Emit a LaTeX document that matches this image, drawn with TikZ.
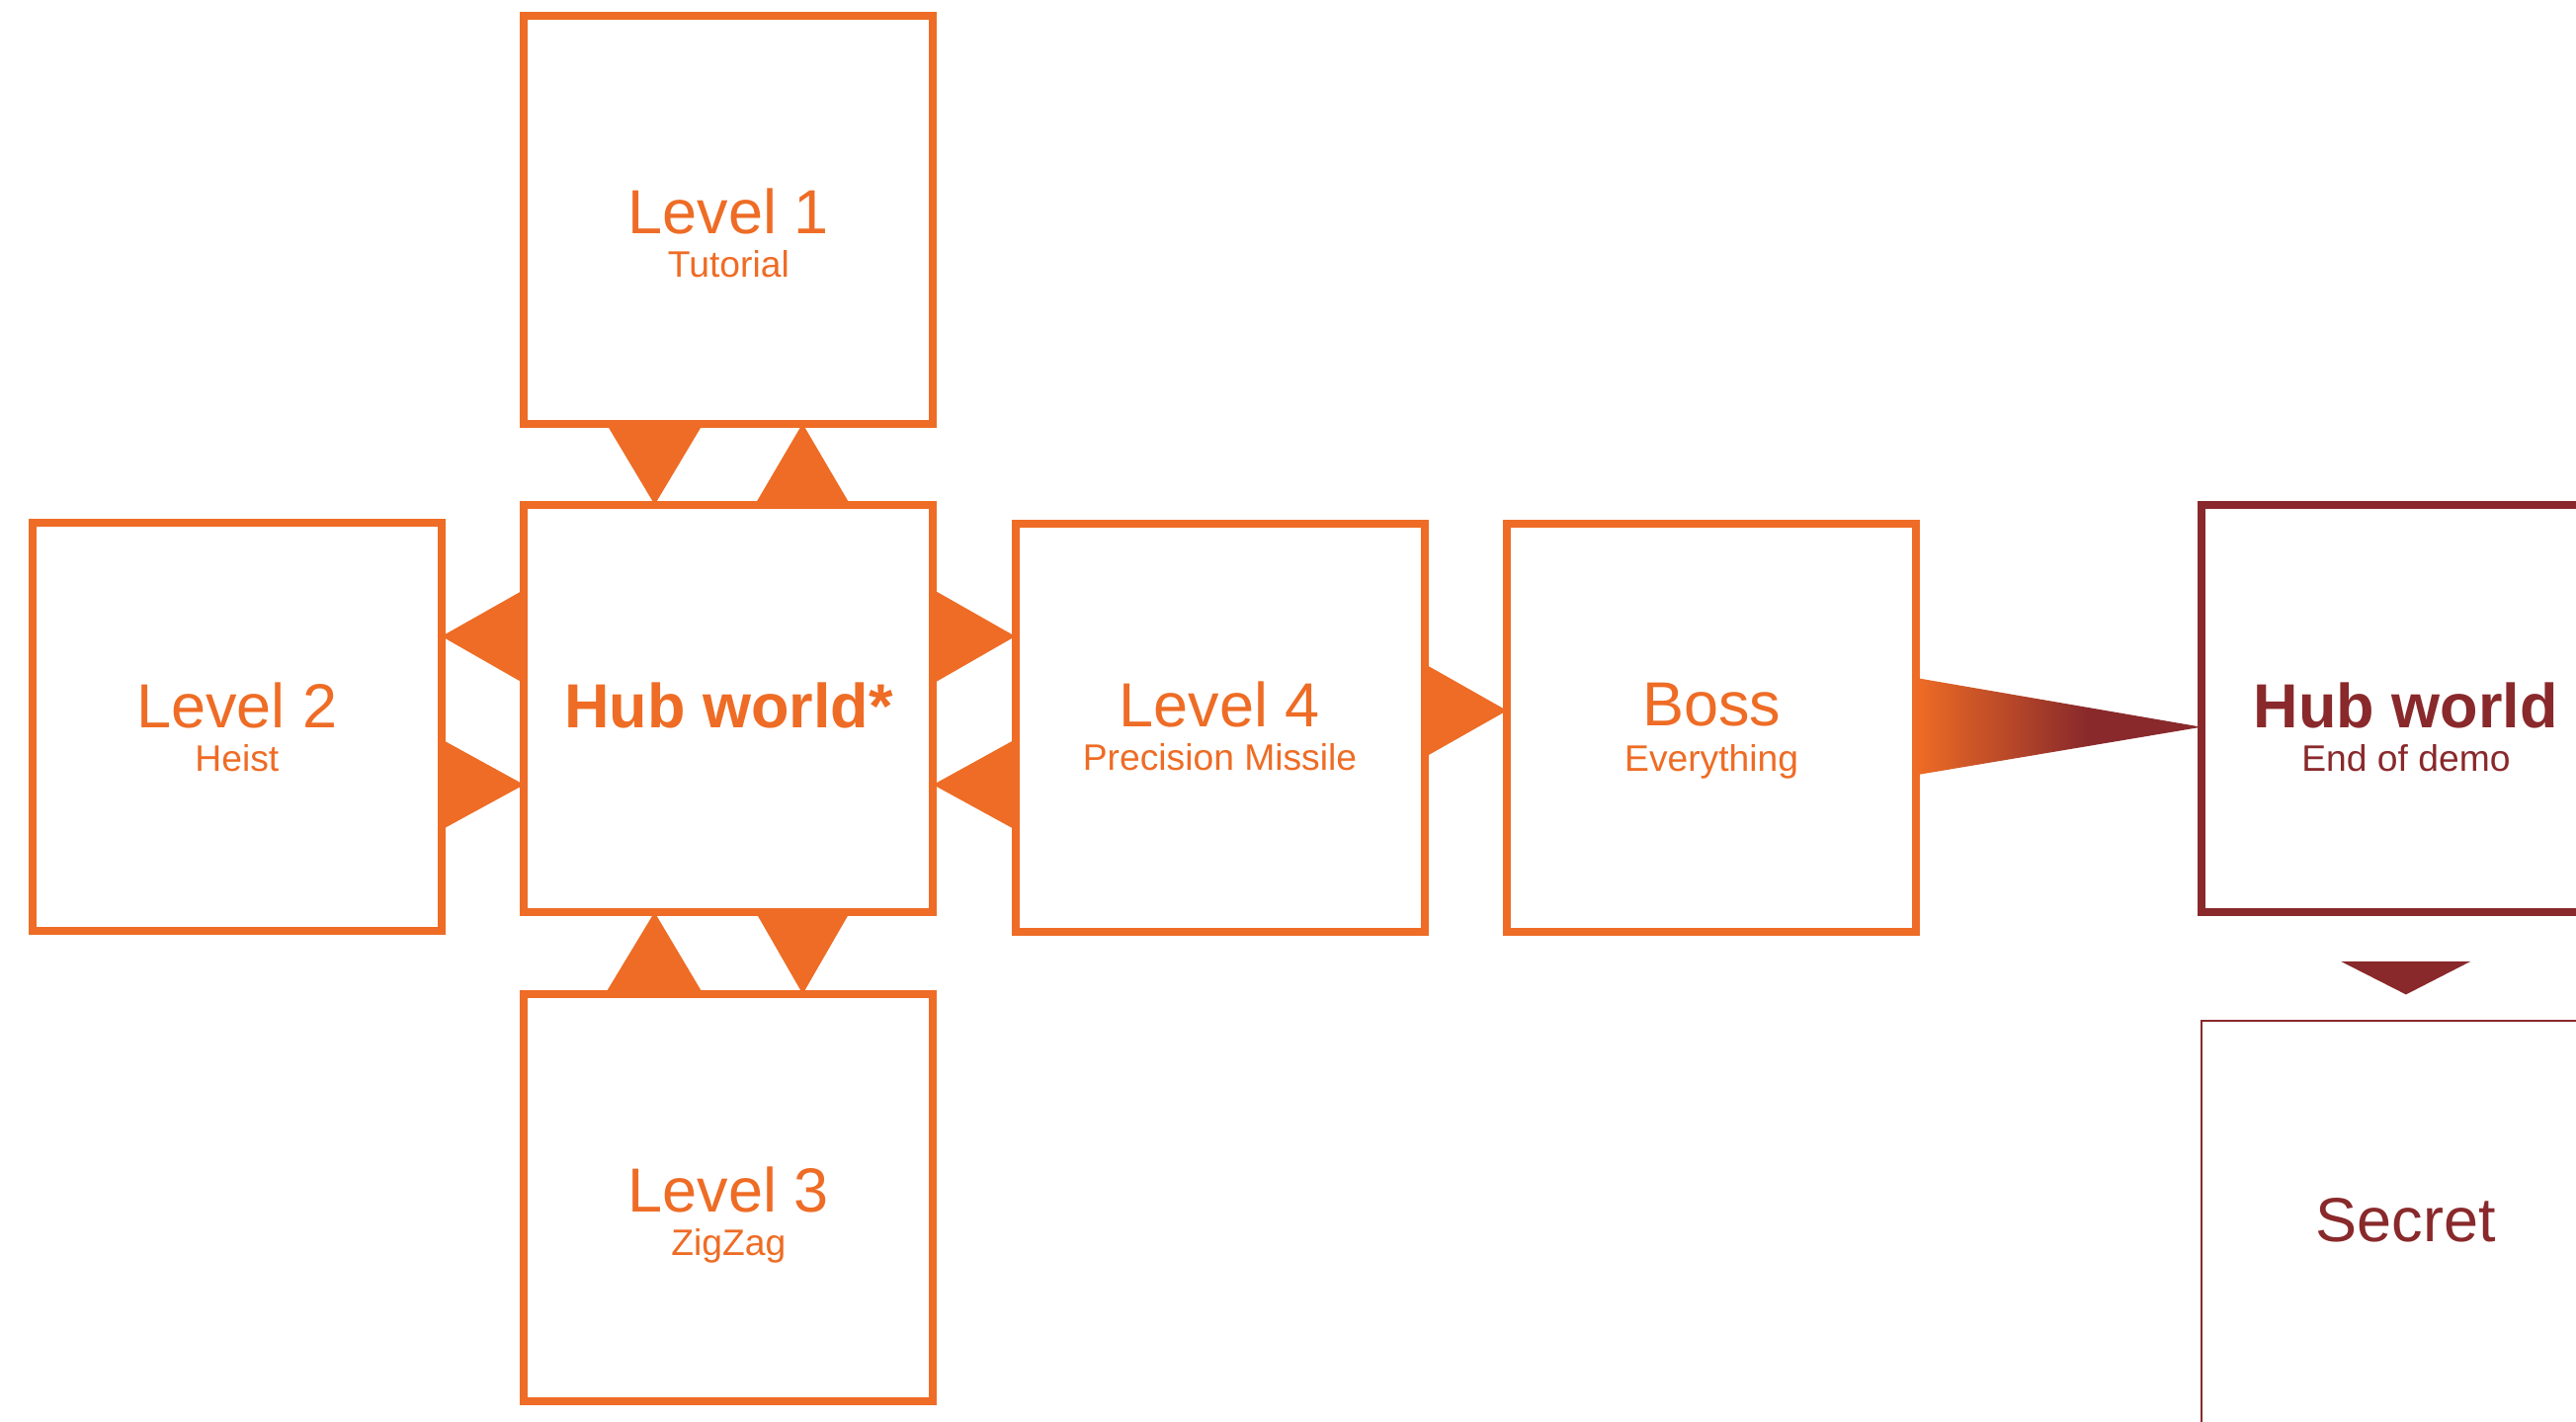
\documentclass[tikz,border=0pt]{standalone}
\usepackage{fontspec}
\setmainfont{Liberation Sans}
\usetikzlibrary{calc}
\definecolor{lvlorange}{HTML}{EE6C25}
\definecolor{enddark}{HTML}{89292B}
\pgfdeclarehorizontalshading{orangetodark}{100bp}{color(0bp)=(lvlorange); color(25bp)=(lvlorange); color(55bp)=(enddark); color(100bp)=(enddark)}
\begin{document}
\begin{tikzpicture}[x=1pt,y=-1pt,
  box/.style={draw=lvlorange, line width=4.8pt, fill=white, minimum width=249pt, minimum height=248pt, inner sep=0pt, outer sep=0pt},
  endbox/.style={box, draw=enddark},
  thinbox/.style={box, draw=enddark, line width=1.6pt},
  maintxt/.style={anchor=base, inner sep=0pt, text=lvlorange, font=\fontsize{37.9}{40}\selectfont},
  subtxt/.style={anchor=base, inner sep=0pt, text=lvlorange, font=\fontsize{22.4}{24}\selectfont},
  tri/.style={fill=lvlorange},
  darktri/.style={fill=enddark}]
\useasboundingbox (0,0) rectangle (1568,865);
\clip (0,0) rectangle (1568,865);
\fill[white] (0,0) rectangle (1568,865);

% boxes
\node[box] (L1) at (443.5,133.8) {};
\node[box] (Hub) at (443.5,431.2) {};
\node[box] (L2) at (144.3,442.3) {};
\node[box] (L4) at (742.5,443) {};
\node[box] (Boss) at (1041.8,443) {};
\node[box] (L3) at (443.5,729) {};
\node[endbox] (HubEnd) at (1464.5,431.2) {};
\node[thinbox] (Secret) at (1464.5,745.3) {};

% texts
\node[maintxt] (t1) at ($(L1.center)+(0,8.2)$) {Level 1};
\node[subtxt] (s1) at ($(L1.center)+(0,35)$) {Tutorial};
\node[maintxt] (t2) at ($(L2.center)+(0,0.7)$) {Level 2};
\node[subtxt] (s2) at ($(L2.center)+(0,27.2)$) {Heist};
\node[maintxt, font=\fontsize{37.9}{40}\selectfont\bfseries] (th) at ($(Hub.center)+(0,11.5)$) {Hub world*};
\node[maintxt] (t4) at ($(L4.center)+(0,-0.9)$) {Level 4};
\node[subtxt] (s4) at ($(L4.center)+(0,25.7)$) {Precision Missile};
\node[maintxt] (tb) at ($(Boss.center)+(0,-1)$) {Boss};
\node[subtxt] (sb) at ($(Boss.center)+(0,26.2)$) {Everything};
\node[maintxt] (t3) at ($(L3.center)+(0,8.4)$) {Level 3};
\node[subtxt] (s3) at ($(L3.center)+(0,35)$) {ZigZag};
\node[maintxt, text=enddark, font=\fontsize{37.9}{40}\selectfont\bfseries] (te) at ($(HubEnd.center)+(0,11.8)$) {Hub world};
\node[subtxt, text=enddark] (se) at ($(HubEnd.center)+(0,38.5)$) {End of demo};
\node[maintxt, text=enddark] (ts) at ($(Secret.center)+(0,10.5)$) {Secret};

% L1 <-> Hub
\fill[tri] ($(L1.south)+(-74.5,0)$) -- ($(L1.south)+(-15.5,0)$) -- ($(Hub.north)+(-45,0)$) -- cycle;
\fill[tri] ($(Hub.north)+(16,0)$) -- ($(Hub.north)+(74,0)$) -- ($(L1.south)+(45,0)$) -- cycle;
% Hub <-> L3
\fill[tri] ($(Hub.south)+(16.5,0)$) -- ($(Hub.south)+(73.8,0)$) -- ($(L3.north)+(45.1,0)$) -- cycle;
\fill[tri] ($(L3.north)+(-75.2,0)$) -- ($(L3.north)+(-15.5,0)$) -- ($(Hub.south)+(-45.1,0)$) -- cycle;
% Hub <-> L2
\fill[tri] ($(Hub.west)+(0,-72.3)$) -- ($(Hub.west)+(0,-15.2)$) -- (L2.east |- {$(Hub.west)+(0,-43.9)$}) -- cycle;
\fill[tri] (L2.east |- {$(Hub.west)+(0,18.8)$}) -- (L2.east |- {$(Hub.west)+(0,73.8)$}) -- ($(Hub.west)+(0,46.4)$) -- cycle;
% Hub <-> L4
\fill[tri] ($(Hub.east)+(0,-72.3)$) -- ($(Hub.east)+(0,-15.2)$) -- (L4.west |- {$(Hub.east)+(0,-43.9)$}) -- cycle;
\fill[tri] (L4.west |- {$(Hub.east)+(0,18.8)$}) -- (L4.west |- {$(Hub.east)+(0,73.8)$}) -- ($(Hub.east)+(0,46.4)$) -- cycle;
% L4 -> Boss
\fill[tri] ($(L4.east)+(0,-39)$) -- ($(L4.east)+(0,18)$) -- ($(Boss.west)+(0,-10.5)$) -- cycle;
% Boss -> HubEnd (gradient)
\shade[shading=orangetodark] ($(Boss.east)+(0,-30.4)$) -- ($(Boss.east)+(0,28.7)$) -- ($(HubEnd.west)+(0,11.3)$) -- cycle;
% HubEnd -> Secret
\fill[darktri] ($(HubEnd.south)+(-39.5,30)$) -- ($(HubEnd.south)+(39.2,30)$) -- ($(Secret.north)+(0,-16)$) -- cycle;
\end{tikzpicture}
\end{document}
